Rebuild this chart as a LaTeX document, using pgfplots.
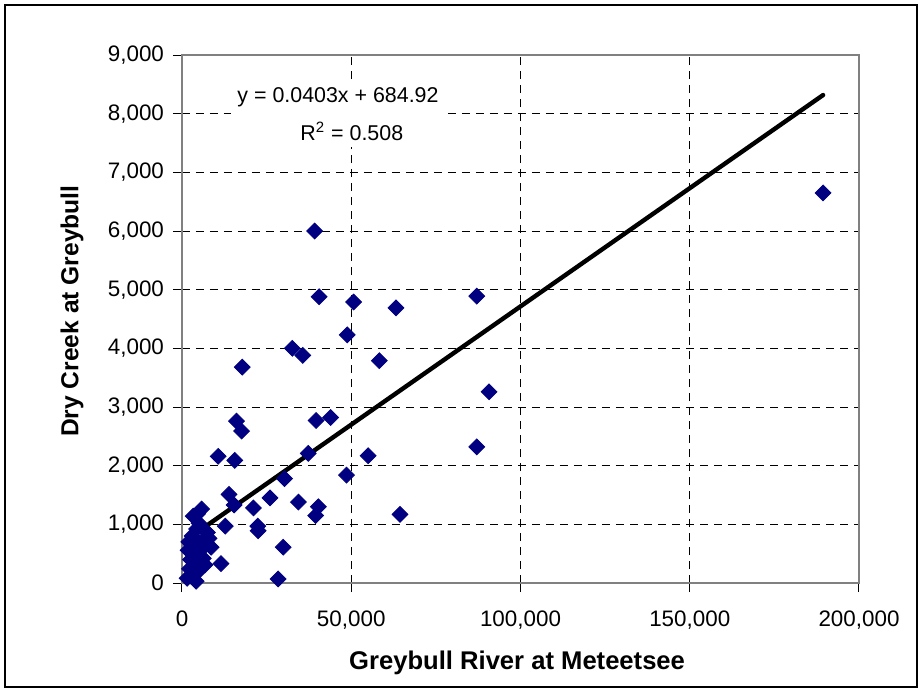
\documentclass[border=0pt]{standalone}
\usepackage{fontspec}
\setmainfont{Liberation Sans}
\usepackage{pgfplots}
\pgfplotsset{compat=1.18}

\definecolor{excelnavy}{RGB}{0,0,128}
\definecolor{axisgray}{RGB}{128,128,128}

\begin{document}
\begin{tikzpicture}
\begin{axis}[
    name=ax,
    at={(0,0)}, anchor=south west,
    scale only axis,
    width=338.5pt, height=264pt,
    xmin=0, xmax=200000,
    ymin=0, ymax=9000,
    scaled x ticks=false, scaled y ticks=false,
    xtick={0,50000,100000,150000,200000},
    xticklabels={0,{50,000},{100,000},{150,000},{200,000}},
    ytick={0,1000,2000,3000,4000,5000,6000,7000,8000,9000},
    yticklabels={0,{1,000},{2,000},{3,000},{4,000},{5,000},{6,000},{7,000},{8,000},{9,000}},
    xtick pos=bottom, ytick pos=left,
    tick align=outside,
    major tick length=4.5pt,
    tick style={black, line width=0.5pt},
    axis line style={axisgray, line width=0.8pt},
    grid=major,
    major grid style={black, line width=0.5pt, dash pattern=on 4pt off 3pt},
    ticklabel style={font=\fontsize{11.2}{13}\selectfont},
    xticklabel style={yshift=-6pt},
    yticklabel style={xshift=-1pt},
    xlabel={\textbf{Greybull River at Meteetsee}},
    ylabel={\textbf{Dry Creek at Greybull}},
    every axis x label/.style={at={(rel axis cs:0.495,0)}, yshift=-40pt, anchor=center,
        font=\fontsize{12.8}{14}\selectfont},
    every axis y label/.style={at={(rel axis cs:0,0.515)}, xshift=-55pt, rotate=90, anchor=center,
        font=\fontsize{12.3}{14}\selectfont},
    clip=false,
]
% observations
\addplot[only marks, mark=square*, mark size=2.8pt,
    mark options={rotate=45, fill=excelnavy, draw=excelnavy}]
coordinates {
(189400,6650) (39200,6000) (40500,4880) (50700,4790) (63200,4690)
(87100,4890) (48800,4230) (32600,4000) (35700,3880) (58300,3790)
(17800,3680) (90700,3260) (16100,2760) (17600,2590) (39600,2770)
(43900,2820) (37300,2210) (55000,2170) (87100,2320) (10700,2160)
(15600,2090) (48600,1840) (30300,1780) (13900,1510) (15400,1330)
(26000,1450) (21100,1280) (34400,1380) (40300,1300) (39500,1150)
(64400,1170) (12800,970) (22400,970) (22500,890) (29900,610)
(11500,330) (28400,70)
(1500,80) (2200,240) (2500,400) (1800,560) (2800,650) (3600,500)
(4200,30) (4500,180) (5000,330) (5500,560) (6200,720) (7000,880)
(3300,1140) (5800,1260) (4600,1180) (4300,920) (5000,1020) (7500,860)
(8600,610) (6300,420) (3000,800) (2000,700) (6800,310) (8000,760)
(4000,700) (2600,120)
};
% linear trend line
\addplot[black, line width=2.2pt, line cap=round] coordinates {(1500,745) (189400,8318)};
\node[fill=white, inner sep=3pt, anchor=west, align=left, font=\fontsize{10.7}{19}\selectfont]
  at (axis cs:14500,7990) {y = 0.0403x + 684.92\\\hspace*{31.5pt}R\textsuperscript{2} = 0.508};
\end{axis}
\draw[black, line width=0.6pt] (-88.5pt,-52pt) rectangle (367.5pt,289pt);
\path (-91pt,-54.5pt) rectangle (370pt,291.5pt);
\end{tikzpicture}
\end{document}
